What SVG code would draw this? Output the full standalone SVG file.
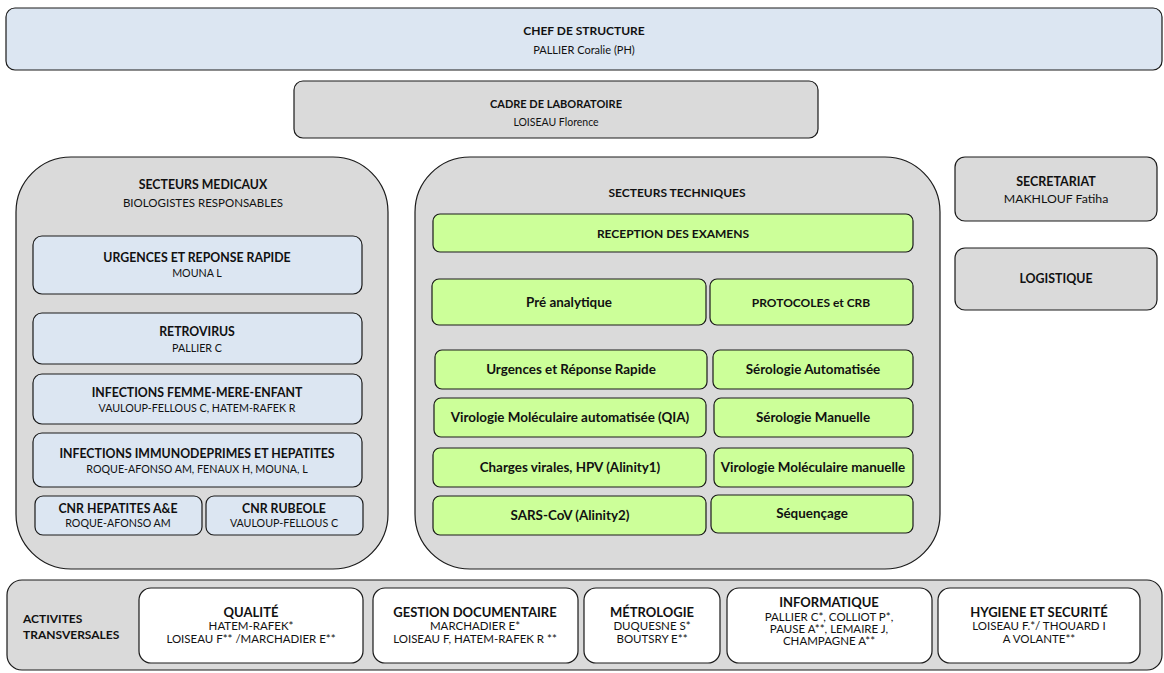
<svg xmlns="http://www.w3.org/2000/svg" width="1164" height="673" viewBox="0 0 1164 673">
<style>
text{font-family:Lato,"Open Sans","Liberation Sans",sans-serif;fill:#111;text-anchor:middle}
.b{font-weight:bold;font-size:12px}
.t{font-weight:bold;font-size:12.3px}
.g{font-weight:bold;font-size:13.4px}
.gu{font-weight:bold;font-size:12px}
.r{font-size:11px}
.s{font-size:10.7px}
.bs{font-size:11.5px}
.bt{font-weight:bold;font-size:13px}
.blue{fill:#dce6f2;stroke:#1a1a1a;stroke-width:1.2}
.grey{fill:#dadada;stroke:#1a1a1a;stroke-width:1.2}
.green{fill:#ccff99;stroke:#1a1a1a;stroke-width:1.2}
.white{fill:#ffffff;stroke:#1a1a1a;stroke-width:1.2}
.l{text-anchor:start}
</style>
<rect width="1164" height="673" fill="#fff"/>
<g id="chef"><rect class="blue" x="6" y="8" width="1156" height="62" rx="9"/>
<text class="b" x="584" y="35">CHEF DE STRUCTURE</text><text class="r" x="584" y="54">PALLIER Coralie (PH)</text></g>
<g id="cadre"><rect class="grey" x="294" y="81" width="524" height="57" rx="9"/>
<text class="b" x="556" y="108" style="font-size:11px">CADRE DE LABORATOIRE</text><text class="r" x="556" y="126" style="font-size:10.5px">LOISEAU Florence</text></g>

<g id="secteurs-medicaux"><rect class="grey" x="16" y="157" width="372" height="412" rx="55"/>
<text class="t" x="203" y="189">SECTEURS MEDICAUX</text><text class="r" x="203" y="207" style="font-size:11.5px">BIOLOGISTES RESPONSABLES</text></g>
<g id="urgences"><rect class="blue" x="33" y="236" width="329" height="58" rx="9"/>
<text class="t" x="197" y="262">URGENCES ET REPONSE RAPIDE</text><text class="s" x="197" y="277">MOUNA L</text></g>
<g id="retrovirus"><rect class="blue" x="33" y="313" width="329" height="51" rx="9"/>
<text class="t" x="197" y="336">RETROVIRUS</text><text class="s" x="197" y="352">PALLIER C</text></g>
<g id="femme-mere-enfant"><rect class="blue" x="33" y="374" width="329" height="50" rx="9"/>
<text class="t" x="197" y="397">INFECTIONS FEMME-MERE-ENFANT</text><text class="s" x="197" y="412">VAULOUP-FELLOUS C, HATEM-RAFEK R</text></g>
<g id="immunodeprimes"><rect class="blue" x="33" y="433" width="329" height="54" rx="9"/>
<text class="t" x="197" y="458">INFECTIONS IMMUNODEPRIMES ET HEPATITES</text><text class="s" x="197" y="473">ROQUE-AFONSO AM, FENAUX H, MOUNA, L</text></g>
<g id="cnr-hepatites"><rect class="blue" x="35" y="496" width="167" height="39" rx="8"/>
<text class="t" x="118" y="513">CNR HEPATITES A&amp;E</text><text class="s" x="118" y="527">ROQUE-AFONSO AM</text></g>
<g id="cnr-rubeole"><rect class="blue" x="206" y="496" width="157" height="39" rx="8"/>
<text class="t" x="284" y="513">CNR RUBEOLE</text><text class="s" x="284" y="527">VAULOUP-FELLOUS C</text></g>

<g id="secteurs-techniques"><rect class="grey" x="415" y="157" width="525" height="412" rx="55"/>
<text class="gu" x="677" y="197">SECTEURS TECHNIQUES</text></g>
<g id="reception"><rect class="green" x="433" y="214" width="480" height="38" rx="7"/>
<text class="gu" x="673" y="238">RECEPTION DES EXAMENS</text></g>
<g id="pre-analytique"><rect class="green" x="432" y="279" width="274" height="46" rx="7"/>
<text class="g" x="569" y="307">Pré analytique</text></g>
<g id="protocoles"><rect class="green" x="710" y="279" width="203" height="46" rx="7"/>
<text class="gu" x="811" y="307">PROTOCOLES et CRB</text></g>
<g id="urgences-tech"><rect class="green" x="435" y="350" width="272" height="39" rx="7"/>
<text class="g" x="571" y="374">Urgences et Réponse Rapide</text></g>
<g id="serologie-auto"><rect class="green" x="713" y="350" width="200" height="39" rx="7"/>
<text class="g" x="813" y="374">Sérologie Automatisée</text></g>
<g id="virologie-qia"><rect class="green" x="434" y="398" width="272" height="39" rx="7"/>
<text class="g" x="570" y="422">Virologie Moléculaire automatisée (QIA)</text></g>
<g id="serologie-manuelle"><rect class="green" x="714" y="398" width="199" height="39" rx="7"/>
<text class="g" x="813" y="422">Sérologie Manuelle</text></g>
<g id="charges-virales"><rect class="green" x="433" y="448" width="273" height="39" rx="7"/>
<text class="g" x="570" y="472">Charges virales, HPV (Alinity1)</text></g>
<g id="virologie-manuelle"><rect class="green" x="714" y="448" width="199" height="39" rx="7"/>
<text class="g" x="813" y="472">Virologie Moléculaire manuelle</text></g>
<g id="sars-cov"><rect class="green" x="433" y="496" width="273" height="39" rx="7"/>
<text class="g" x="570" y="520">SARS-CoV (Alinity2)</text></g>
<g id="sequencage"><rect class="green" x="711" y="495" width="202" height="38" rx="7"/>
<text class="g" x="812" y="518">Séquençage</text></g>

<g id="secretariat"><rect class="grey" x="955" y="157" width="202" height="64" rx="10"/>
<text class="b" x="1056" y="186" style="font-size:12.5px">SECRETARIAT</text><text class="r" x="1056" y="203" style="font-size:12.3px">MAKHLOUF Fatiha</text></g>
<g id="logistique"><rect class="grey" x="955" y="248" width="202" height="62" rx="10"/>
<text class="b" x="1056" y="283" style="font-size:12.4px">LOGISTIQUE</text></g>

<g id="activites"><rect class="grey" x="7" y="580" width="1155" height="90" rx="15"/>
<text class="b l" x="23" y="623">ACTIVITES</text><text class="b l" x="23" y="639">TRANSVERSALES</text></g>
<g id="qualite"><rect class="white" x="139" y="588" width="224" height="75" rx="12"/>
<text class="bt" x="251" y="617">QUALITÉ</text><text class="bs" x="251" y="630">HATEM-RAFEK*</text><text class="bs" x="251" y="643">LOISEAU F** /MARCHADIER E**</text></g>
<g id="gestion-documentaire"><rect class="white" x="373" y="588" width="205" height="75" rx="12"/>
<text class="bt" x="475" y="617">GESTION DOCUMENTAIRE</text><text class="bs" x="475" y="630">MARCHADIER E*</text><text class="bs" x="475" y="643">LOISEAU F, HATEM-RAFEK R **</text></g>
<g id="metrologie"><rect class="white" x="584" y="588" width="136" height="75" rx="12"/>
<text class="bt" x="652" y="617">MÉTROLOGIE</text><text class="bs" x="652" y="630">DUQUESNE S*</text><text class="bs" x="652" y="643">BOUTSRY E**</text></g>
<g id="informatique"><rect class="white" x="727" y="588" width="205" height="75" rx="12"/>
<text class="bt" x="829" y="607">INFORMATIQUE</text><text class="bs" x="829" y="621">PALLIER C*, COLLIOT P*,</text><text class="bs" x="829" y="633">PAUSE A**, LEMAIRE J,</text><text class="bs" x="829" y="645">CHAMPAGNE A**</text></g>
<g id="hygiene-securite"><rect class="white" x="938" y="588" width="202" height="75" rx="12"/>
<text class="bt" x="1039" y="617">HYGIENE ET SECURITÉ</text><text class="bs" x="1039" y="630">LOISEAU F.*/ THOUARD I</text><text class="bs" x="1039" y="643">A VOLANTE**</text></g>
<g id="connectors"></g>
</svg>
